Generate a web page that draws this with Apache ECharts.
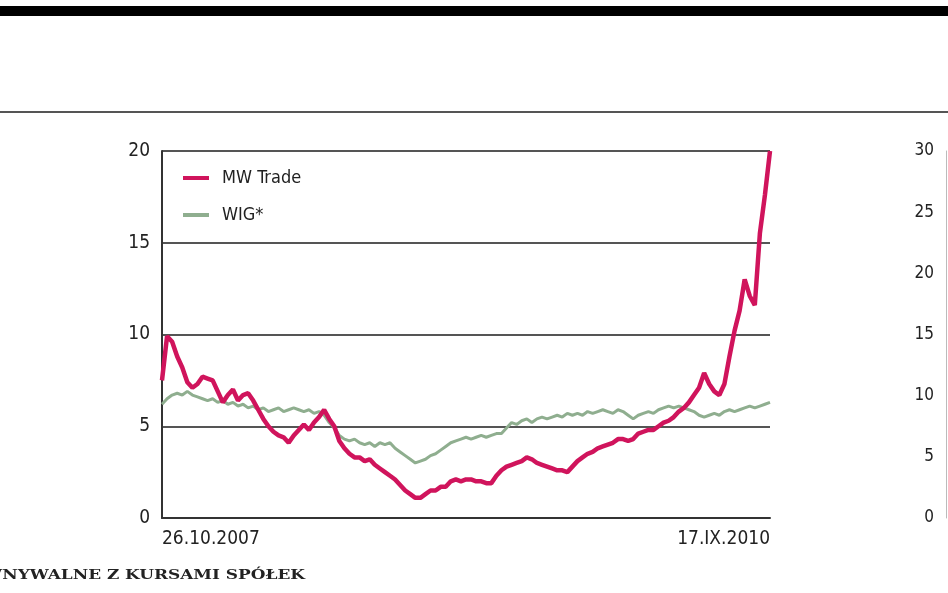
<!DOCTYPE html>
<html><head><meta charset="utf-8">
<script src="https://cdn.jsdelivr.net/npm/echarts@6/dist/echarts.min.js"></script>
<style>html,body{margin:0;padding:0;background:#fff;}#c{width:948px;height:593px;}</style>
</head><body><div id="c"></div>
<script>
const seriesNames = ['MW Trade', 'WIG*'];
const xTickLabels = ['26.10.2007', '17.IX.2010'];
const yTicksMain = [0, 5, 10, 15, 20];
const yTicksRight = [0, 5, 10, 15, 20, 25, 30];
const mwTrade = [
 7.5,9.9,9.6,8.8,8.2,7.4,7.1,7.3,7.7,7.6,
 7.5,6.9,6.3,6.7,7.0,6.4,6.7,6.8,6.4,5.9,
 5.4,5.0,4.7,4.5,4.4,4.1,4.5,4.8,5.1,4.8,
 5.2,5.5,5.9,5.4,5.0,4.2,3.8,3.5,3.3,3.3,
 3.1,3.2,2.9,2.7,2.5,2.3,2.1,1.8,1.5,1.3,
 1.1,1.1,1.3,1.5,1.5,1.7,1.7,2.0,2.1,2.0,
 2.1,2.1,2.0,2.0,1.9,1.9,2.3,2.6,2.8,2.9,
 3.0,3.1,3.3,3.2,3.0,2.9,2.8,2.7,2.6,2.6,
 2.5,2.8,3.1,3.3,3.5,3.6,3.8,3.9,4.0,4.1,
 4.3,4.3,4.2,4.3,4.6,4.7,4.8,4.8,5.0,5.2,
 5.3,5.5,5.8,6.0,6.3,6.7,7.1,7.9,7.3,6.9,
 6.7,7.3,8.8,10.2,11.3,13.0,12.1,11.6,15.5,17.6,
 20.0
];
const wig = [
 6.2,6.5,6.7,6.8,6.7,6.9,6.7,6.6,6.5,6.4,
 6.5,6.3,6.4,6.2,6.3,6.1,6.2,6.0,6.1,5.9,
 6.0,5.8,5.9,6.0,5.8,5.9,6.0,5.9,5.8,5.9,
 5.7,5.8,5.6,5.2,4.9,4.5,4.3,4.2,4.3,4.1,
 4.0,4.1,3.9,4.1,4.0,4.1,3.8,3.6,3.4,3.2,
 3.0,3.1,3.2,3.4,3.5,3.7,3.9,4.1,4.2,4.3,
 4.4,4.3,4.4,4.5,4.4,4.5,4.6,4.6,4.9,5.2,
 5.1,5.3,5.4,5.2,5.4,5.5,5.4,5.5,5.6,5.5,
 5.7,5.6,5.7,5.6,5.8,5.7,5.8,5.9,5.8,5.7,
 5.9,5.8,5.6,5.4,5.6,5.7,5.8,5.7,5.9,6.0,
 6.1,6.0,6.1,6.0,5.9,5.8,5.6,5.5,5.6,5.7,
 5.6,5.8,5.9,5.8,5.9,6.0,6.1,6.0,6.1,6.2,
 6.3
];
const categories = mwTrade.map((_, i) => String(i));
const lastIdx = categories.length - 1;

const chart = echarts.init(document.getElementById('c'), null, {renderer: 'canvas'});
const fontNarrow = 'Liberation Sans Narrow, DejaVu Sans Condensed, sans-serif';
chart.setOption({
  animation: false,
  backgroundColor: '#ffffff',
  grid: [
    {left: 162, right: 178, top: 151, bottom: 75, containLabel: false},
    {left: 946, width: 200, top: 151, bottom: 75}
  ],
  legend: {
    orient: 'vertical', left: 178, top: 164, itemGap: 19,
    itemWidth: 26, itemHeight: 4, icon: 'rect',
    textStyle: {fontFamily: fontNarrow, fontSize: 18, color: '#222', padding: [0,0,0,8]},
    data: seriesNames
  },
  xAxis: [
    {
      type: 'category', gridIndex: 0, data: categories, boundaryGap: false,
      axisLine: {show: true, lineStyle: {color: '#333', width: 2}},
      axisTick: {show: false},
      splitLine: {show: false},
      axisLabel: {
        interval: (i) => i === 0 || i === lastIdx,
        formatter: (v, i) => i === 0 ? xTickLabels[0] : (Number(v) === lastIdx ? xTickLabels[1] : ''),
        fontFamily: fontNarrow, fontSize: 19, color: '#222', margin: 12,
        alignMinLabel: 'left', alignMaxLabel: 'right'
      }
    },
    {type: 'value', gridIndex: 1, show: false, min: 0, max: 1}
  ],
  yAxis: [
    {
      type: 'value', gridIndex: 0, min: yTicksMain[0], max: yTicksMain[yTicksMain.length-1], interval: 5,
      axisLine: {show: true, lineStyle: {color: '#333', width: 2}},
      axisTick: {show: false},
      splitLine: {show: true, lineStyle: {color: '#555', width: 2}},
      axisLabel: {fontFamily: fontNarrow, fontSize: 19, color: '#222', margin: 12}
    },
    {
      type: 'value', gridIndex: 1, min: yTicksRight[0], max: yTicksRight[yTicksRight.length-1], interval: 5,
      axisLine: {show: true, lineStyle: {color: '#bbb', width: 1}},
      axisTick: {show: false},
      splitLine: {show: false},
      axisLabel: {fontFamily: fontNarrow, fontSize: 17, color: '#222', margin: 12}
    }
  ],
  series: [
    {
      name: seriesNames[1], type: 'line', xAxisIndex: 0, yAxisIndex: 0, data: wig,
      showSymbol: false, smooth: false,
      lineStyle: {color: '#8fae8f', width: 3}, itemStyle: {color: '#8fae8f'}, z: 2
    },
    {
      name: seriesNames[0], type: 'line', xAxisIndex: 0, yAxisIndex: 0, data: mwTrade,
      showSymbol: false, smooth: false,
      lineStyle: {color: '#d0145c', width: 4.5}, itemStyle: {color: '#d0145c'}, z: 3
    }
  ],
  graphic: [
    {type: 'rect', shape: {x: 0, y: 6, width: 948, height: 10}, style: {fill: '#000'}},
    {type: 'rect', shape: {x: 0, y: 111, width: 948, height: 2}, style: {fill: '#555'}},
    {type: 'text', x: 305, y: 569, scaleX: 1.3, style: {text: 'PORÓWNYWALNE Z KURSAMI SPÓŁEK', font: 'bold 13px DejaVu Serif', fill: '#222', align: 'right'}}
  ]
});
</script></body></html>
